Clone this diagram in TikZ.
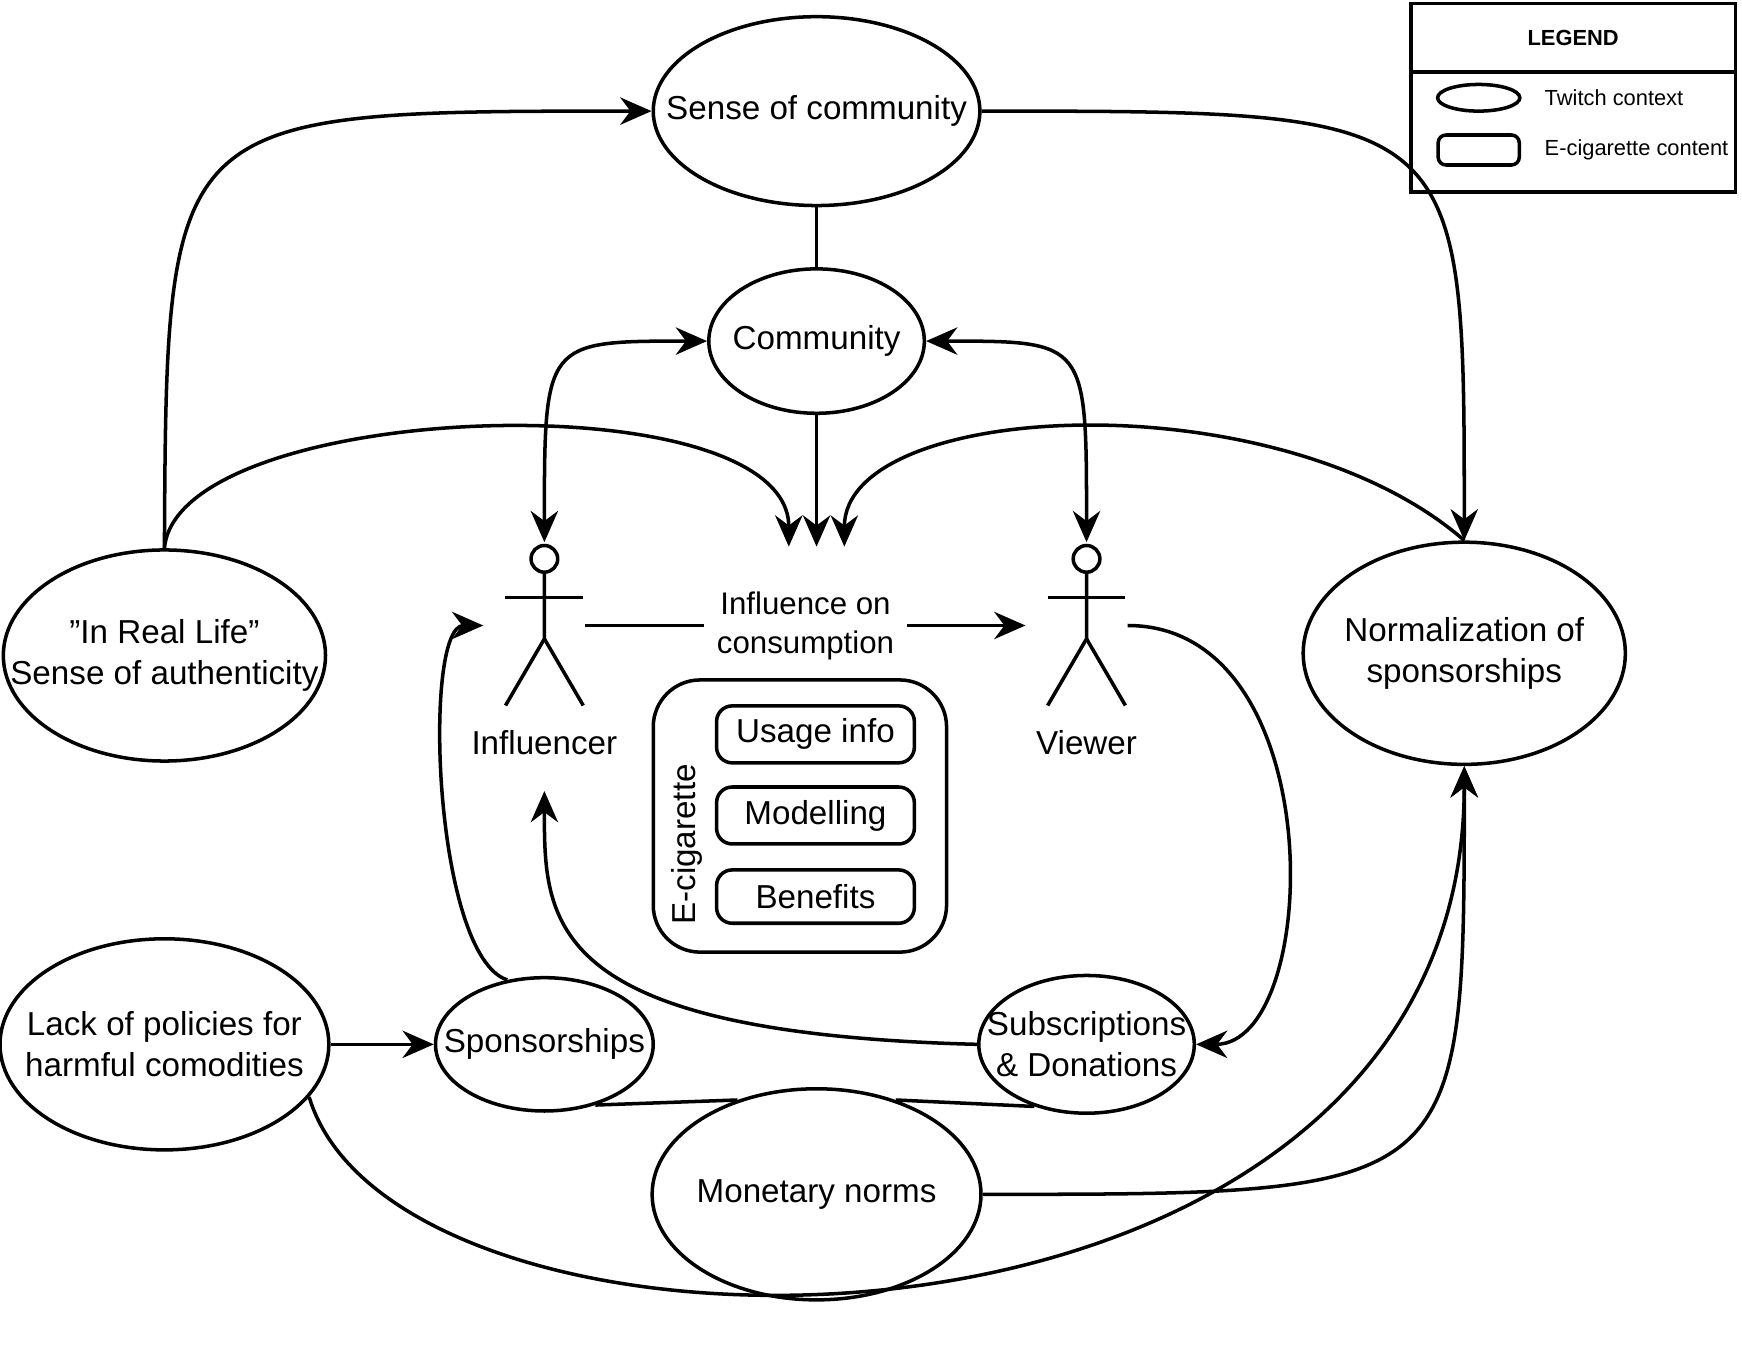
\documentclass[tikz,border=0pt]{standalone}
\usepackage{fontspec}
\setmainfont{Liberation Sans}
\usetikzlibrary{shapes.geometric, arrows.meta, positioning, calc}

\tikzset{
  ctx/.style={draw, line width=0.9pt, ellipse, inner sep=0pt},
  lbl/.style={align=center, font=\fontsize{8.5}{10.5}\selectfont},
  box/.style={draw, line width=0.9pt, rounded corners=4pt, minimum width=1.78cm, minimum height=0.48cm, font=\fontsize{8.5}{10.5}\selectfont},
  link/.style={line width=0.9pt, -{Stealth[length=8pt,width=7pt]}},
  both/.style={line width=0.9pt, {Stealth[length=8pt,width=7pt]}-{Stealth[length=8pt,width=7pt]}},
  plain/.style={line width=0.9pt},
}

\begin{document}
\begin{tikzpicture}[x=1cm,y=1cm]
  \useasboundingbox (0,0) rectangle (15.68,-12.26);

  % Twitch context
  \node[ctx, minimum width=2.94cm, minimum height=1.70cm] (soc) at (7.35,-1.00) {};
  \node[ctx, minimum width=1.94cm, minimum height=1.30cm] (com) at (7.35,-3.07) {};
  \node[ctx, minimum width=2.90cm, minimum height=1.90cm] (irl) at (1.48,-5.90) {};
  \node[ctx, minimum width=2.90cm, minimum height=2.00cm] (norm) at (13.18,-5.88) {};
  \node[ctx, minimum width=2.96cm, minimum height=1.90cm] (lack) at (1.48,-9.40) {};
  \node[ctx, minimum width=1.96cm, minimum height=1.20cm] (spon) at (4.90,-9.40) {};
  \node[ctx, minimum width=1.94cm, minimum height=1.24cm] (subs) at (9.78,-9.40) {};
  \node[ctx, minimum width=2.96cm, minimum height=1.90cm] (money) at (7.35,-10.75) {};
  \foreach \n/\txt in {soc/Sense of community, com/Community,
      irl/{"In Real Life"\\Sense of authenticity}, norm/{Normalization of\\sponsorships},
      lack/{Lack of policies for\\harmful comodities}, spon/Sponsorships,
      subs/{Subscriptions\\\& Donations}, money/Monetary norms}
    \node[lbl] (\n-t) at (\n) {\txt};

  % Actors
  \foreach \x/\name/\txt in {4.90/inf/Influencer, 9.78/view/Viewer} {
    \draw[plain] (\x,-5.03) circle (0.12);
    \draw[plain] (\x,-5.15) -- (\x,-5.75) -- (\x-0.35,-6.35);
    \draw[plain] (\x,-5.75) -- (\x+0.35,-6.35);
    \draw[plain] (\x-0.35,-5.38) -- (\x+0.35,-5.38);
    \coordinate (\name-head) at (\x,-4.88);
    \coordinate (\name-l) at (\x-0.55,-5.63);
    \coordinate (\name-r) at (\x+0.37,-5.63);
    \node[lbl] (\name-lbl) at (\x,-6.68) {\txt};
  }
  \coordinate (inf-foot) at (4.90,-7.12);

  % E-cigarette content
  \draw[plain, rounded corners=12pt] (5.88,-6.12) rectangle (8.52,-8.57);
  \node[box] (usage) at (7.34,-6.61) {Usage info};
  \node[box] (model) at (7.34,-7.34) {Modelling};
  \node[box] (bene) at (7.34,-8.07) {Benefits};
  \node[rotate=90, lbl] (ecig) at (6.18,-7.60) {E-cigarette};

  % Targets above the centre
  \coordinate (tl) at (7.10,-4.92);
  \coordinate (tm) at (7.35,-4.92);
  \coordinate (tr) at (7.60,-4.92);

  % Connectors
  \draw[link] (irl.north) .. controls (1.50,-1.00) .. (soc.west);
  \draw[link] (irl.north) .. controls (1.60,-3.60) and (7.10,-3.40) .. (tl);
  \draw[link] (soc.east) .. controls (13.18,-1.00) .. (norm.north);
  \draw[plain] (soc.south) -- (com.north);
  \draw[both] (com.west) .. controls (4.90,-3.07) .. (inf-head);
  \draw[both] (com.east) .. controls (9.78,-3.07) .. (view-head);
  \draw[link] (com.south) -- (tm);
  \draw[link] (norm.north) .. controls (11.50,-3.40) and (7.60,-3.60) .. (tr);
  \draw[link] (inf-r) -- node[fill=white, lbl, font=\fontsize{8}{10}\selectfont] (infl) {Influence on\\consumption} (view-l);
  \draw[link] (view-r) .. controls (12.00,-5.63) and (11.90,-9.40) .. (subs.east);
  \draw[link] (subs.west) .. controls (4.90,-9.30) and (4.90,-8.30) .. (inf-foot);
  \draw[link] (spon.120) .. controls (3.90,-8.60) and (3.80,-5.63) .. (inf-l);
  \draw[link] (lack.east) -- (spon.west);
  \draw[plain] (spon.-50) -- (money.130);
  \draw[plain] (subs.-130) -- (money.50);
  \draw[link] (money.east) .. controls (13.18,-10.75) .. (norm.south);
  \draw[link] (lack.-20) .. controls (3.60,-12.60) and (13.18,-12.60) .. (norm.south);

  % Legend
  \draw[plain] (12.70,-0.03) rectangle (15.62,-1.73);
  \draw[plain] (12.70,-0.65) -- (15.62,-0.65);
  \node[font=\bfseries\fontsize{5.6}{7}\selectfont] (leg) at (14.16,-0.34) {LEGEND};
  \node[draw, plain, ellipse, minimum width=0.74cm, minimum height=0.24cm, inner sep=0pt] (legctx) at (13.31,-0.88) {};
  \node[draw, plain, rounded corners=2pt, minimum width=0.73cm, minimum height=0.27cm, inner sep=0pt] (legbox) at (13.31,-1.35) {};
  \node[anchor=west, font=\fontsize{5.6}{7}\selectfont] (legctxt) at (13.78,-0.88) {Twitch context};
  \node[anchor=west, font=\fontsize{5.6}{7}\selectfont] (legboxt) at (13.78,-1.35) {E-cigarette content};
\end{tikzpicture}
\end{document}
